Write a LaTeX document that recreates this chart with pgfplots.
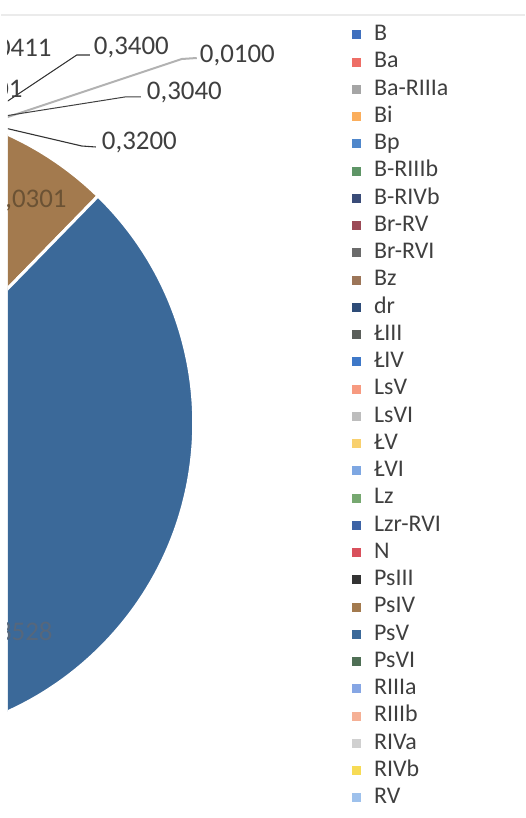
\documentclass[border=0pt]{standalone}
\usepackage{pgfplots}
\usepackage{pgfplotstable}
\pgfplotsset{compat=1.18}
\usepackage{fontspec}
\setmainfont{Carlito}

\definecolor{txt}{HTML}{3F3F3F}
\definecolor{lblbrown}{HTML}{6B5234}
\definecolor{lblblue}{HTML}{56677C}
\definecolor{c1}{HTML}{4070BE}
\definecolor{c2}{HTML}{EE6E66}
\definecolor{c3}{HTML}{A5A5A5}
\definecolor{c4}{HTML}{FBAE5C}
\definecolor{c5}{HTML}{4F87CB}
\definecolor{c6}{HTML}{5E9566}
\definecolor{c7}{HTML}{3A4C78}
\definecolor{c8}{HTML}{9B4A56}
\definecolor{c9}{HTML}{6B6B6B}
\definecolor{c10}{HTML}{9C7558}
\definecolor{c11}{HTML}{2E4C78}
\definecolor{c12}{HTML}{5B5F5B}
\definecolor{c13}{HTML}{3E78C8}
\definecolor{c14}{HTML}{F79A80}
\definecolor{c15}{HTML}{BDBDBD}
\definecolor{c16}{HTML}{F8D06E}
\definecolor{c17}{HTML}{7EA7E2}
\definecolor{c18}{HTML}{76A870}
\definecolor{c19}{HTML}{3D63A5}
\definecolor{c20}{HTML}{D9505C}
\definecolor{c21}{HTML}{333333}
\definecolor{c22}{HTML}{A37A4E}
\definecolor{c23}{HTML}{3B6999}
\definecolor{c24}{HTML}{4F6F55}
\definecolor{c25}{HTML}{86A6E4}
\definecolor{c26}{HTML}{F5B095}
\definecolor{c27}{HTML}{D0D0D0}
\definecolor{c28}{HTML}{F7DB55}
\definecolor{c29}{HTML}{9EC1EC}

% soil class areas, in legend order (B ... RV)
\pgfplotstableread{
value
0.0500
0.0800
0.0200
0.0300
0.0600
0.0400
0.0500
0.0300
0.0200
0.1200
0.0900
0.0700
0.1000
0.0400
0.0300
0.0411
0.1001
0.3400
0.0100
0.3040
0.3200
2.0301
18.8528
2.1000
1.3000
1.6000
2.0000
1.4000
1.1000
}\soiltable

\newcommand\lbl{\fontsize{27}{31}\selectfont}

\begin{document}
\begin{tikzpicture}
\def\cx{-124}\def\cy{423}\def\R{317}
\def\total{0}
\pgfplotsforeachungrouped \i in {0,...,28}{%
  \pgfplotstablegetelem{\i}{value}\of\soiltable
  \pgfmathsetmacro\total{\total+\pgfplotsretval}}
\begin{axis}[
  width=524bp, height=818bp, scale only axis,
  xmin=0, xmax=524, ymin=0, ymax=818, y dir=reverse,
  hide axis, clip=false,
  legend image code/.code={\fill[#1] (0bp,-4bp) rectangle (8bp,4bp);},
  legend cell align=left,
  legend style={at={(0.66985,0.97127)}, anchor=north west, draw=none, fill=none,
     inner sep=0pt, outer sep=0pt,
     font=\fontsize{24}{27}\selectfont, text=txt, row sep=5.25bp, column sep=14bp,
     nodes={inner sep=0pt, text height=17bp, text depth=5bp}},
]
\draw[black!8, line width=1.5bp] (axis cs:0,15) -- (axis cs:524,15);
\begin{scope}
\clip (axis cs:7,0) rectangle (axis cs:524,818);
\def\cum{0}
\pgfplotsforeachungrouped \i in {0,...,28}{%
  \pgfplotstablegetelem{\i}{value}\of\soiltable
  \pgfmathsetmacro\a{\cum/\total*360}%
  \pgfmathsetmacro\cum{\cum+\pgfplotsretval}%
  \pgfmathsetmacro\b{\cum/\total*360}%
  \pgfmathtruncatemacro\k{\i+1}%
  \edef\slice{\noexpand\fill[c\k, draw=white, line width=3bp, line join=round]
    (axis cs:\cx,\cy) -- (axis cs:{\cx+\R*sin(\a)},{\cy-\R*cos(\a)})
    arc[start angle={90-\a}, end angle={90-\b}, radius=\R bp] -- cycle;}%
  \slice
}
% leader lines
\draw[black!80, line width=1.1bp] (axis cs:89,55) -- (axis cs:76,55) -- (axis cs:4,103);
\draw[black!30, line width=2bp] (axis cs:196,58) -- (axis cs:181,59) -- (axis cs:4,118);
\draw[black!75, line width=1bp] (axis cs:140,97) -- (axis cs:124,97) -- (axis cs:4,116);
\draw[black!80, line width=1.1bp] (axis cs:95,147) -- (axis cs:81,146) -- (axis cs:4,128);
% data labels
\node[anchor=base west, inner sep=0pt, font=\lbl, text=txt] at (axis cs:93,55) {0,3400};
\node[anchor=base west, inner sep=0pt, font=\lbl, text=txt] at (axis cs:199,63) {0,0100};
\node[anchor=base west, inner sep=0pt, font=\lbl, text=txt] at (axis cs:146,100) {0,3040};
\node[anchor=base west, inner sep=0pt, font=\lbl, text=txt] at (axis cs:101,150) {0,3200};
\node[anchor=base east, inner sep=0pt, font=\lbl, text=txt] at (axis cs:51,57) {0,0411};
\node[anchor=base east, inner sep=0pt, font=\lbl, text=txt] at (axis cs:22,98) {0,1001};
\node[anchor=base east, inner sep=0pt, font=\lbl, text=lblbrown] at (axis cs:66,208) {2,0301};
\node[anchor=base east, inner sep=0pt, font=\lbl, text=lblblue] at (axis cs:52,640) {18,8528};
\end{scope}

\addlegendimage{c1}\addlegendentry{B}
\addlegendimage{c2}\addlegendentry{Ba}
\addlegendimage{c3}\addlegendentry{Ba-RIIIa}
\addlegendimage{c4}\addlegendentry{Bi}
\addlegendimage{c5}\addlegendentry{Bp}
\addlegendimage{c6}\addlegendentry{B-RIIIb}
\addlegendimage{c7}\addlegendentry{B-RIVb}
\addlegendimage{c8}\addlegendentry{Br-RV}
\addlegendimage{c9}\addlegendentry{Br-RVI}
\addlegendimage{c10}\addlegendentry{Bz}
\addlegendimage{c11}\addlegendentry{dr}
\addlegendimage{c12}\addlegendentry{ŁIII}
\addlegendimage{c13}\addlegendentry{ŁIV}
\addlegendimage{c14}\addlegendentry{LsV}
\addlegendimage{c15}\addlegendentry{LsVI}
\addlegendimage{c16}\addlegendentry{ŁV}
\addlegendimage{c17}\addlegendentry{ŁVI}
\addlegendimage{c18}\addlegendentry{Lz}
\addlegendimage{c19}\addlegendentry{Lzr-RVI}
\addlegendimage{c20}\addlegendentry{N}
\addlegendimage{c21}\addlegendentry{PsIII}
\addlegendimage{c22}\addlegendentry{PsIV}
\addlegendimage{c23}\addlegendentry{PsV}
\addlegendimage{c24}\addlegendentry{PsVI}
\addlegendimage{c25}\addlegendentry{RIIIa}
\addlegendimage{c26}\addlegendentry{RIIIb}
\addlegendimage{c27}\addlegendentry{RIVa}
\addlegendimage{c28}\addlegendentry{RIVb}
\addlegendimage{c29}\addlegendentry{RV}
\end{axis}
\end{tikzpicture}
\end{document}
